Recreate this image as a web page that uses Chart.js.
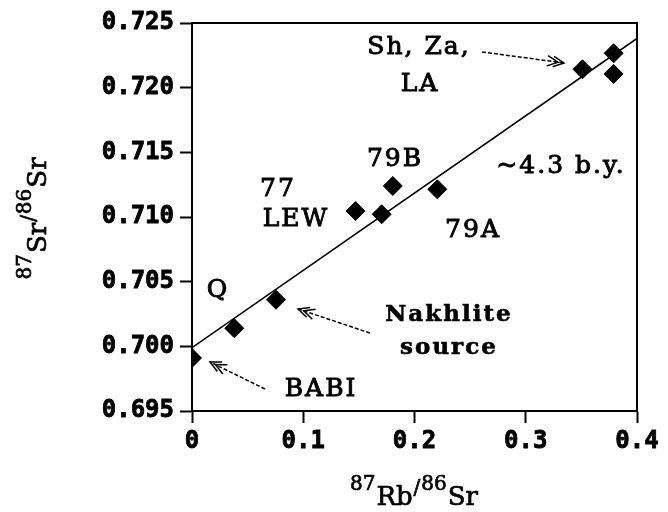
<!DOCTYPE html>
<html>
<head>
<meta charset="utf-8">
<script src="https://cdn.jsdelivr.net/npm/chart.js@4"></script>
<style>
  html, body { margin: 0; padding: 0; background: #fff; }
  #wrap { width: 668px; height: 512px; }
</style>
</head>
<body>
<div id="wrap"><canvas id="isochron" width="668" height="512"></canvas></div>
<script>
// Rb-Sr isochron data
const sampleX = [0.000, 0.038, 0.0755, 0.147, 0.1705, 0.1805, 0.2205, 0.351, 0.379, 0.379];
const sampleY = [0.6991, 0.7014, 0.7036, 0.71046, 0.71021, 0.7124, 0.71214, 0.72142, 0.72266, 0.72106];

// isochron line end points
const lineX = [0, 0.4];
const lineY = [0.6999, 0.7238];

// axis ticks
const xTicks = [0, 0.1, 0.2, 0.3, 0.4];
const yTicks = [0.695, 0.700, 0.705, 0.710, 0.715, 0.720, 0.725];

// text labels inside the plot (data coords)
const noteText = ['Sh, Za,', 'LA', '79B', '~4.3 b.y.', '77', 'LEW', '79A', 'Q', 'BABI', 'Nakhlite', 'source'];
const noteX    = [0.204, 0.205, 0.1825, 0.3317, 0.0773, 0.0935, 0.2526, 0.0234, 0.116, 0.231, 0.231];
const noteY    = [0.72307, 0.72028, 0.71441, 0.71387, 0.71216, 0.70984, 0.70899, 0.70428, 0.6967, 0.70242, 0.69987];
const noteBold = [false, false, false, false, false, false, false, false, false, true, true];

// dashed pointer arrows (from -> to, data coords)
const arrowFromX = [0.2607, 0.160, 0.0656];
const arrowFromY = [0.72276, 0.70103, 0.6967];
const arrowToX   = [0.3344, 0.0953, 0.0162];
const arrowToY   = [0.72191, 0.70289, 0.69879];

const TICK_FONT = { family: "'DejaVu Sans Mono', monospace", size: 24, weight: 'bold' };
const SERIF = "'DejaVu Serif', serif";

// box round the plot area (top + right edges)
const frame = {
    id: 'frame',
    afterDatasetsDraw(chart) {
        const { ctx, chartArea: a } = chart;
        ctx.save();
        ctx.strokeStyle = '#000';
        ctx.lineWidth = 2;
        ctx.beginPath();
        ctx.moveTo(a.left, a.top);
        ctx.lineTo(a.right, a.top);
        ctx.lineTo(a.right, a.bottom);
        ctx.stroke();
        ctx.restore();
    }
};

// annotations: labels and arrows
const notes = {
    id: 'notes',
    afterDatasetsDraw(chart) {
        const { ctx, scales: { x, y } } = chart;
        ctx.save();
        ctx.fillStyle = '#000';
        ctx.strokeStyle = '#000';
        ctx.textAlign = 'center';
        ctx.textBaseline = 'middle';
        if ('letterSpacing' in ctx) ctx.letterSpacing = '2px';
        noteText.forEach((t, i) => {
            const px = x.getPixelForValue(noteX[i]), py = y.getPixelForValue(noteY[i]);
            ctx.font = (noteBold[i] ? 'bold 23px ' : '25px ') + SERIF;
            ctx.fillText(t, px, py);
            ctx.lineWidth = noteBold[i] ? 0.6 : 0.9;
            ctx.strokeText(t, px, py);
        });
        if ('letterSpacing' in ctx) ctx.letterSpacing = '0px';

        ctx.lineWidth = 1.5;
        for (let i = 0; i < arrowFromX.length; i++) {
            const x0 = x.getPixelForValue(arrowFromX[i]), y0 = y.getPixelForValue(arrowFromY[i]);
            const x1 = x.getPixelForValue(arrowToX[i]), y1 = y.getPixelForValue(arrowToY[i]);
            const ang = Math.atan2(y1 - y0, x1 - x0);
            ctx.setLineDash([4, 2]);
            ctx.beginPath();
            ctx.moveTo(x0, y0);
            ctx.lineTo(x1, y1);
            ctx.stroke();
            ctx.setLineDash([]);
            // open double arrow head
            for (const back of [0, 6]) {
                const tx = x1 - Math.cos(ang) * back, ty = y1 - Math.sin(ang) * back;
                ctx.beginPath();
                ctx.moveTo(tx - Math.cos(ang - 0.45) * 12, ty - Math.sin(ang - 0.45) * 12);
                ctx.lineTo(tx, ty);
                ctx.lineTo(tx - Math.cos(ang + 0.45) * 12, ty - Math.sin(ang + 0.45) * 12);
                ctx.stroke();
            }
        }
        ctx.restore();
    }
};

// axis titles with superscript mass numbers
function drawIsotopeRatio(ctx, parts, cx, cy, rot) {
    const baseFont = '26px ' + SERIF, supFont = '20px ' + SERIF;
    ctx.save();
    ctx.translate(cx, cy);
    ctx.rotate(rot);
    ctx.textBaseline = 'alphabetic';
    ctx.textAlign = 'left';
    ctx.strokeStyle = '#000';
    ctx.lineWidth = 0.7;
    let total = 0;
    const widths = parts.map(p => {
        ctx.font = p.sup ? supFont : baseFont;
        const w = ctx.measureText(p.t).width + 1;
        total += w;
        return w;
    });
    let px = -total / 2;
    parts.forEach((p, i) => {
        ctx.font = p.sup ? supFont : baseFont;
        const py = p.t === '/' ? -2 : (p.sup ? -6 : 9);
        ctx.fillText(p.t, px, py);
        ctx.strokeText(p.t, px, py);
        px += widths[i];
    });
    ctx.restore();
}

const titles = {
    id: 'titles',
    afterDraw(chart) {
        const { ctx, chartArea: a } = chart;
        ctx.fillStyle = '#000';
        drawIsotopeRatio(ctx, [{ t: '87', sup: true }, { t: 'Rb' }, { t: '/', sup: true }, { t: '86', sup: true }, { t: 'Sr' }],
            (a.left + a.right) / 2, 496, 0);
        drawIsotopeRatio(ctx, [{ t: '87', sup: true }, { t: 'Sr' }, { t: '/', sup: true }, { t: '86', sup: true }, { t: 'Sr' }],
            37, 218, -Math.PI / 2);
    }
};

const ctx = document.getElementById('isochron').getContext('2d');
new Chart(ctx, {
    type: 'scatter',
    data: {
        datasets: [{
            data: sampleX.map((v, i) => ({ x: v, y: sampleY[i] })),
            pointStyle: 'rectRot',
            pointRadius: 9.5,
            backgroundColor: '#000',
            borderColor: '#000',
            borderWidth: 1
        }, {
            data: lineX.map((v, i) => ({ x: v, y: lineY[i] })),
            showLine: true,
            pointRadius: 0,
            borderColor: '#000',
            borderWidth: 1.6
        }]
    },
    options: {
        responsive: false,
        animation: false,
        devicePixelRatio: 1,
        layout: { padding: { left: 0, right: 31, top: 23, bottom: 0 } },
        plugins: { legend: { display: false }, tooltip: { enabled: false } },
        scales: {
            x: {
                type: 'linear',
                min: 0, max: 0.4,
                afterBuildTicks: s => { s.ticks = xTicks.map(v => ({ value: v })); },
                afterFit: s => { s.height = 101; },
                ticks: {
                    color: '#000', font: TICK_FONT, padding: 4, maxRotation: 0,
                    textStrokeColor: '#000', textStrokeWidth: 0.8,
                    callback: v => v === 0 ? '0' : v.toFixed(1)
                },
                grid: { drawOnChartArea: false, tickLength: 12, tickWidth: 2, tickColor: '#000' },
                border: { color: '#000', width: 2 }
            },
            y: {
                type: 'linear',
                min: 0.695, max: 0.725,
                afterBuildTicks: s => { s.ticks = yTicks.map(v => ({ value: v })); },
                afterFit: s => { s.width = 192; },
                ticks: {
                    color: '#000', font: TICK_FONT, padding: 6,
                    textStrokeColor: '#000', textStrokeWidth: 0.8,
                    callback: v => v.toFixed(3)
                },
                grid: { drawOnChartArea: false, tickLength: 12, tickWidth: 2, tickColor: '#000' },
                border: { color: '#000', width: 2 }
            }
        }
    },
    plugins: [frame, notes, titles]
});
</script>
</body>
</html>
